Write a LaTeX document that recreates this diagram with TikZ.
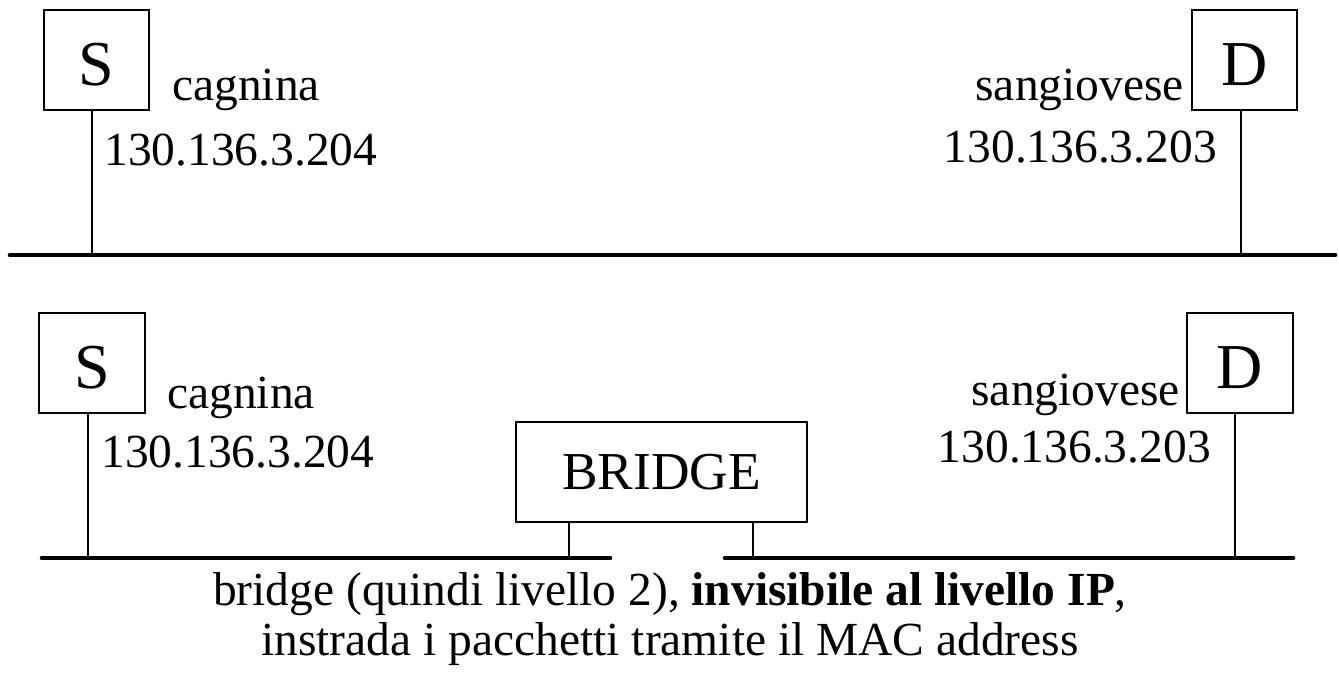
\documentclass[tikz,border=0pt]{standalone}
\usepackage{fontspec}
\setmainfont{Liberation Serif}
\usetikzlibrary{positioning}

\tikzset{
  host/.style={draw,line width=1.4pt,minimum width=79pt,minimum height=75pt,inner sep=0pt,
    text height=38.6pt,text depth=0pt,font=\fontsize{48}{48}\selectfont},
  brbox/.style={draw,line width=1.4pt,minimum width=218pt,minimum height=75pt,inner sep=0pt,
    font=\fontsize{40}{40}\selectfont},
  lbl/.style={inner sep=0pt,font=\fontsize{35.6}{37.5}\selectfont},
  bus/.style={line width=3.5pt,line cap=round},
  tap/.style={line width=1pt}
}

\begin{document}
\begin{tikzpicture}[x=0.75pt,y=-0.75pt]
\useasboundingbox (0,0) rectangle (1339,675);
% una sola rete
\node[host] (S1) at (96.5,60) {S};
\node[host] (D1) at (1244.5,60) {D};
\node[lbl,anchor=base west] (nS1) at (172,100) {cagnina};
\node[lbl,anchor=base west] (iS1) at (104,165) {130.136.3.204};
\node[lbl,anchor=base east] (nD1) at (1184,100) {sangiovese};
\node[lbl,anchor=base east] (iD1) at (1217,162) {130.136.3.203};
\coordinate (w1) at (10,255);
\coordinate (e1) at (1335,255);
\coordinate (t1) at (92,255);
\coordinate (t2) at (1241,255);
\draw[bus] (w1)--(e1);
\draw[tap] (S1.south -| t1)--(t1)
  (D1.south -| t2)--(t2);

% due segmenti col bridge
\node[host] (S2) at (92,363) {S};
\node[host] (D2) at (1240,363) {D};
\node[lbl,anchor=base west] (nS2) at (167,408) {cagnina};
\node[lbl,anchor=base west] (iS2) at (101,467) {130.136.3.204};
\node[lbl,anchor=base east] (nD2) at (1180,405) {sangiovese};
\node[lbl,anchor=base east] (iD2) at (1211,462) {130.136.3.203};
\node[brbox] (br) at (661.5,472) {BRIDGE};
\coordinate (w2) at (42,558);
\coordinate (m2) at (610,558);
\coordinate (m3) at (725,558);
\coordinate (e2) at (1293,558);
\coordinate (t3) at (88,558);
\coordinate (t4) at (569,558);
\coordinate (t5) at (753,558);
\coordinate (t6) at (1235,558);
\draw[bus] (w2)--(m2) (m3)--(e2);
\draw[tap] (S2.south -| t3)--(t3)
  (br.south -| t4)--(t4)
  (br.south -| t5)--(t5)
  (D2.south -| t6)--(t6);

\node[lbl,align=center,anchor=base] (note) at (670,655)
  {bridge (quindi livello 2), \textbf{invisibile al livello IP},\\
   instrada i pacchetti tramite il MAC address};
\end{tikzpicture}
\end{document}
